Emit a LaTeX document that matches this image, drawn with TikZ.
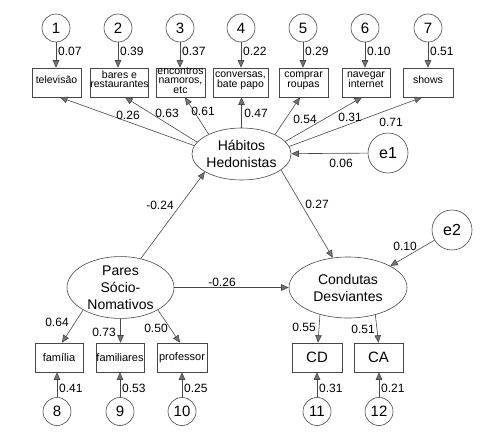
\documentclass[tikz,border=0pt]{standalone}
\usepackage{fontspec}
\setmainfont{Liberation Sans}
\usetikzlibrary{arrows.meta,shapes.geometric,calc}
\newcommand\bxt[2][-2pt]{\raisebox{#1}{\smash{\renewcommand\arraystretch{0.88}\begin{tabular}{@{}c@{}}#2\end{tabular}}}}
\begin{document}
\begin{tikzpicture}[x=1pt,y=-1pt,
  ln/.style={draw=black!72,line width=0.6pt},
  arr/.style={ln,-{Triangle[length=7.5pt,width=6.5pt,fill=black!55]}},
  box/.style={draw=black!72,line width=0.6pt,rectangle,minimum height=29pt,inner sep=0pt,font=\fontsize{10.5}{11}\selectfont},
  num/.style={draw=black!72,line width=0.6pt,circle,minimum size=28pt,inner sep=0pt,font=\fontsize{15}{15}\selectfont},
  err/.style={draw=black!72,line width=0.6pt,circle,minimum size=40pt,inner sep=0pt,font=\fontsize{16}{16}\selectfont},
  lat/.style={draw=black!72,line width=0.6pt,ellipse,inner sep=0pt,align=center,font=\fontsize{14}{17}\selectfont},
  lbl/.style={inner sep=0pt,font=\fontsize{12}{12}\selectfont},
  vlbl/.style={lbl,anchor=west}]
\useasboundingbox (0,0) rectangle (500,439);

% top indicator boxes
\node[box,minimum width=49pt] (tv) at (56.5,82.5) {\bxt{televisão}};
\node[box,minimum width=57pt] (bares) at (119.5,82.5) {\bxt{bares e\\restaurantes}};
\node[box,minimum width=49pt] (enc) at (180.5,82.5) {\bxt[-4pt]{encontros\\namoros,\\etc}};
\node[box,minimum width=55pt] (conv) at (240.5,82.5) {\bxt{conversas,\\bate papo}};
\node[box,minimum width=49pt] (comp) at (303.5,82.5) {\bxt{comprar\\roupas}};
\node[box,minimum width=48pt] (nav) at (366,82.5) {\bxt{navegar\\internet}};
\node[box,minimum width=50pt] (shows) at (428,82.5) {\bxt{shows}};

% top error circles
\node[num] (c1) at (56,28) {1};
\node[num] (c2) at (118,28) {2};
\node[num] (c3) at (180,28) {3};
\node[num] (c4) at (241,28) {4};
\node[num] (c5) at (303,28) {5};
\node[num] (c6) at (365,28) {6};
\node[num] (c7) at (428,28) {7};

\draw[arr] (c1.south) -- (c1.south |- tv.north);
\draw[arr] (c2.south) -- (c2.south |- bares.north);
\draw[arr] (c3.south) -- (c3.south |- enc.north);
\draw[arr] (c4.south) -- (c4.south |- conv.north);
\draw[arr] (c5.south) -- (c5.south |- comp.north);
\draw[arr] (c6.south) -- (c6.south |- nav.north);
\draw[arr] (c7.south) -- (c7.south |- shows.north);

\node[vlbl] (v1) at (58,51) {0.07};
\node[vlbl] (v2) at (120,51) {0.39};
\node[vlbl] (v3) at (182,51) {0.37};
\node[vlbl] (v4) at (243,51) {0.22};
\node[vlbl] (v5) at (305,51) {0.29};
\node[vlbl] (v6) at (367,51) {0.10};
\node[vlbl] (v7) at (430,51) {0.51};

% latent variables
\node[lat,minimum width=97pt,minimum height=52pt] (hab) at (241.5,154) {Hábitos\\Hedonistas};
\node[lat,minimum width=107pt,minimum height=60pt] (pares) at (120.5,287.5) {Pares\\Sócio-\\Nomativos};
\node[lat,minimum width=118pt,minimum height=61pt] (cond) at (348,287.5) {Condutas\\Desviantes};

\node[err] (e1) at (388,153) {e1};
\node[err] (e2) at (452,230) {e2};

% loadings of Hábitos Hedonistas
\draw[arr] (hab.170) -- ($(tv.south)+(3.5,0)$);
\draw[arr] (hab.165) -- ($(bares.south)+(5.5,0)$);
\draw[arr] (hab.149) -- ($(enc.south)+(4.5,0)$);
\draw[arr] (hab.north) -- (hab.north |- conv.south);
\draw[arr] (hab.30) -- ($(comp.south)+(-3.5,0)$);
\draw[arr] (hab.16) -- ($(nav.south)+(-4,0)$);
\draw[arr] (hab.9) -- ($(shows.south)+(-6,0)$);

\node[lbl] (p1) at (128,115) {0.26};
\node[lbl] (p2) at (167,113) {0.63};
\node[lbl] (p3) at (203,111) {0.61};
\node[lbl] (p4) at (256,113) {0.47};
\node[lbl] (p5) at (305,119) {0.54};
\node[lbl] (p6) at (350,117) {0.31};
\node[lbl] (p7) at (391,122) {0.71};

% structural paths
\draw[arr] (e1) -- (hab);
\node[lbl] (le1) at (341,163) {0.06};
\draw[arr] (pares.55) -- (hab.206);
\node[lbl] (lph) at (160,205) {-0.24};
\draw[arr] (pares) -- (cond);
\node[lbl] (lpc) at (222,282) {-0.26};
\draw[arr] (hab.338) -- (cond.117);
\node[lbl] (lhc) at (317,204) {0.27};
\draw[arr] (e2) -- (cond.27);
\node[lbl] (le2) at (405,246) {0.10};

% bottom indicator boxes
\node[box,minimum width=48pt,font=\fontsize{11}{12}\selectfont] (fam) at (59,357.5) {família};
\node[box,minimum width=48pt,font=\fontsize{11}{12}\selectfont] (fams) at (120,357.5) {familiares};
\node[box,minimum width=50pt,font=\fontsize{11}{12}\selectfont] (prof) at (182,357.5) {professor};
\node[box,minimum width=50pt,font=\fontsize{15}{15}\selectfont] (cd) at (317,357.5) {CD};
\node[box,minimum width=49pt,font=\fontsize{15}{15}\selectfont] (ca) at (378.5,357.5) {CA};

\draw[arr] (pares.211) -- ($(fam.north)+(3,0)$);
\draw[arr] (pares.south) -- (pares.south |- fams.north);
\draw[arr] (pares.329) -- ($(prof.north)+(-2,0)$);
\draw[arr] (cond.224) -- ($(cd.north)+(1,0)$);
\draw[arr] (cond.315) -- (ca.north);

\node[lbl] (l64) at (57,322) {0.64};
\node[lbl] (l73) at (104,332) {0.73};
\node[lbl] (l50) at (156,328) {0.50};
\node[lbl] (l55) at (304,327) {0.55};
\node[lbl] (l51) at (363,329) {0.51};

% bottom error circles
\node[num] (b8) at (57,411.5) {8};
\node[num] (b9) at (120,411.5) {9};
\node[num] (b10) at (182,411.5) {10};
\node[num] (b11) at (317,411.5) {11};
\node[num] (b12) at (379,411.5) {12};

\draw[arr] (b8.north) -- (b8.north |- fam.south);
\draw[arr] (b9.north) -- (b9.north |- fams.south);
\draw[arr] (b10.north) -- (b10.north |- prof.south);
\draw[arr] (b11.north) -- (b11.north |- cd.south);
\draw[arr] (b12.north) -- (b12.north |- ca.south);

\node[vlbl] (w8) at (59,388) {0.41};
\node[vlbl] (w9) at (122,388) {0.53};
\node[vlbl] (w10) at (184,388) {0.25};
\node[vlbl] (w11) at (319,388) {0.31};
\node[vlbl] (w12) at (381,388) {0.21};
\end{tikzpicture}
\end{document}
